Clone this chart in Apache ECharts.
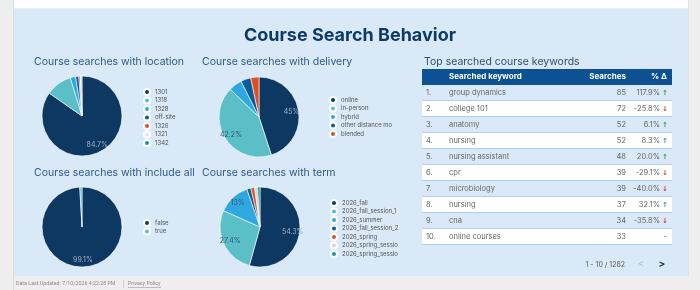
<!DOCTYPE html>
<html>
<head>
<meta charset="utf-8">
<script src="https://cdn.jsdelivr.net/npm/echarts@6/dist/echarts.min.js"></script>
<style>
html,body{margin:0;padding:0;background:#eeeeee;}
#chart{width:700px;height:290px;}
</style>
</head>
<body>
<div id="chart"></div>
<script>
// ---- data ----
const locationNames = ['1301','1318','1328','off-site','1326','1321','1342'];
const locationValues = [84.7, 10.6, 2.1, 1.3, 0.6, 0.4, 0.3];

const deliveryNames = ['online','in-person','hybrid','other distance modality','blended'];
const deliveryValues = [45, 42.2, 5.4, 4.1, 3.3];

const includeNames = ['false','true'];
const includeValues = [99.1, 0.9];

const termNames = ['2026_fall','2026_fall_session_1','2026_summer','2026_fall_session_2','2026_spring','2026_spring_session_1','2026_spring_session_2'];
const termValues = [54.3, 27.4, 13, 1.6, 1.5, 1.2, 1.0];

const keywordRanks = ['1.','2.','3.','4.','5.','6.','7.','8.','9.','10.'];
const keywords = ['group dynamics','college 101','anatomy','nursing','nursing assistant','cpr','microbiology','nursing','cna','online courses'];
const keywordSearches = [85, 72, 52, 52, 48, 39, 39, 37, 34, 33];
const keywordChange = [117.9, -25.8, 6.1, 8.3, 20.0, -29.1, -40.0, 32.1, -35.8, null];

// ---- styles ----
const FONT = 'Inter, "Open Sans", sans-serif';
const PANEL = '#d9e9f8';
const palette = ['#0d3861','#5bbfc7','#2fa8e0','#0b5c9e','#e0501f','#d6d6d6','#14979e'];
const locPalette = ['#0d3861','#5bbfc7','#2fa8e0','#0b5c9e','#e0501f',PANEL,'#14979e'];
const darkSet = new Set(['#0d3861','#0b5c9e','#e0501f','#14979e']);
const R = 40;

function pieSeries(names, values, colors, center) {
  const data = names.map((n, i) => ({name: n, value: values[i], itemStyle: {color: colors[i]}}));
  const labelData = names.map((n, i) => ({
    name: n, value: values[i],
    label: {color: darkSet.has(colors[i]) ? '#9fb2c6' : '#35577a'}
  }));
  return [
    {
      type: 'pie', center: center, radius: [0, R], startAngle: 90, clockwise: true,
      data: data, label: {show: false}, labelLine: {show: false},
      itemStyle: {borderColor: '#ffffff', borderWidth: 0.6},
      emphasis: {disabled: true}, animation: false
    },
    {
      type: 'pie', center: center, radius: [0, R * 1.5], startAngle: 90, clockwise: true,
      data: labelData, silent: true, legendHoverLink: false,
      itemStyle: {color: 'rgba(0,0,0,0)', borderWidth: 0},
      label: {
        show: true, position: 'inside', fontSize: 7, fontFamily: FONT,
        formatter: p => (p.value >= 12 ? p.value + '%' : '')
      },
      labelLine: {show: false}, emphasis: {disabled: true}, animation: false, z: 3
    }
  ];
}

function legend(names, left, top, width) {
  return {
    orient: 'vertical', left: left, top: top, data: names,
    icon: 'circle', itemWidth: 6, itemHeight: 6, itemGap: 0.5,
    selectedMode: false, padding: 0,
    textStyle: {fontSize: 6, color: '#555', fontFamily: FONT,
      width: width, overflow: 'truncate', ellipsis: ''}
  };
}

const chart = echarts.init(document.getElementById('chart'), null, {renderer: 'canvas'});

const tableLeft = 422, tableWidth = 250, tableTop = 85, rowH = 16;
const subStyle = {fontSize: 10.5, fontWeight: 'normal', color: '#2c5b86', fontFamily: FONT};
const FOOT = '5.3px Roboto, sans-serif';

const option = {
  backgroundColor: '#eeeeee',
  animation: false,
  graphic: [
    {type: 'rect', shape: {x: 13, y: 0, width: 1, height: 290}, style: {fill: '#dcdcdc'}, z: 0},
    {type: 'rect', shape: {x: 14, y: 0, width: 674, height: 9}, style: {fill: '#ffffff'}, z: 0},
    {type: 'rect', shape: {x: 14, y: 8, width: 674, height: 1}, style: {fill: '#e8eef4'}, z: 0},
    {type: 'rect', shape: {x: 14, y: 9, width: 674, height: 267}, style: {fill: PANEL}, z: 0},
    {type: 'rect', shape: {x: 688, y: 0, width: 1, height: 277}, style: {fill: '#e2e2e2'}, z: 0},
    // table header
    {type: 'rect', shape: {x: tableLeft, y: 69, width: tableWidth, height: 16}, style: {fill: '#0d5192'}, z: 5},
    {type: 'text', x: tableLeft + 27, y: 77, style: {text: 'Searched keyword', fill: '#fff', font: 'bold 8px ' + FONT, textVerticalAlign: 'middle'}, z: 6},
    {type: 'text', x: tableLeft + 204, y: 77, style: {text: 'Searches', fill: '#fff', font: 'bold 8px ' + FONT, textAlign: 'right', textVerticalAlign: 'middle'}, z: 6},
    {type: 'text', x: tableLeft + 245, y: 77, style: {text: '% Δ', fill: '#fff', font: 'bold 8px ' + FONT, textAlign: 'right', textVerticalAlign: 'middle'}, z: 6},
    // pagination
    {type: 'text', x: 625, y: 265, style: {text: '1 - 10 / 1282', fill: '#555', font: '7px ' + FONT, textAlign: 'right', textVerticalAlign: 'middle'}, z: 6},
    {type: 'text', x: 641, y: 264, style: {text: '<', fill: '#bbbbbb', font: '10px ' + FONT, textAlign: 'center', textVerticalAlign: 'middle'}, z: 6},
    {type: 'text', x: 662, y: 264, style: {text: '>', fill: '#333', font: 'bold 10px ' + FONT, textAlign: 'center', textVerticalAlign: 'middle'}, z: 6},
    // footer
    {type: 'text', x: 16, y: 284, style: {text: 'Data Last Updated: 7/10/2026 4:22:28 PM', fill: '#8a8a8a', font: FOOT, textVerticalAlign: 'middle'}, z: 6},
    {type: 'rect', shape: {x: 123, y: 280, width: 0.6, height: 8}, style: {fill: '#bbbbbb'}, z: 6},
    {type: 'text', x: 128, y: 284, style: {text: 'Privacy Policy', fill: '#8a8a8a', font: FOOT, textVerticalAlign: 'middle'}, z: 6},
    {type: 'rect', shape: {x: 128, y: 287.5, width: 33, height: 0.5}, style: {fill: '#8a8a8a'}, z: 6}
  ],
  title: [
    {text: 'Course Search Behavior', left: 'center', top: 22,
      textStyle: {fontSize: 18, fontWeight: 'bold', color: '#0e3a68', fontFamily: FONT}},
    {text: 'Course searches with location', left: 29, top: 51, textStyle: subStyle},
    {text: 'Course searches with delivery', left: 197, top: 51, textStyle: subStyle},
    {text: 'Course searches with include all', left: 29, top: 162, textStyle: subStyle},
    {text: 'Course searches with term', left: 197, top: 162, textStyle: subStyle},
    {text: 'Top searched course keywords', left: 419, top: 51, textStyle: Object.assign({}, subStyle, {color: '#2f4e6e'})}
  ],
  legend: [
    legend(locationNames, 143, 88, 24),
    legend(deliveryNames, 329, 96, 56),
    legend(includeNames, 143, 219, 24),
    legend(termNames, 330, 199, 60)
  ],
  grid: {left: tableLeft, top: tableTop, width: tableWidth, height: rowH * keywords.length},
  xAxis: {type: 'value', min: 0, max: 1, show: false},
  yAxis: {type: 'category', data: keywordRanks, inverse: true, show: false},
  series: [
    ...pieSeries(locationNames, locationValues, locPalette, [82, 116]),
    ...pieSeries(deliveryNames, deliveryValues, palette, [259, 117]),
    ...pieSeries(includeNames, includeValues, palette, [82, 227]),
    ...pieSeries(termNames, termValues, palette, [260, 227]),
    {
      type: 'custom', coordinateSystem: 'cartesian2d', silent: true,
      data: keywords.map((k, i) => [0, i]),
      encode: {x: 0, y: 1},
      renderItem: function (params, api) {
        const i = api.value(1);
        const c = api.coord([0, i]);
        const h = api.size([0, 1])[1];
        const cs = params.coordSys;
        const x0 = cs.x, y0 = c[1] - h / 2, yc = c[1];
        const ch = keywordChange[i];
        const children = [
          {type: 'rect', shape: {x: x0, y: y0, width: cs.width, height: h},
            style: {fill: i % 2 === 1 ? '#ffffff' : 'rgba(0,0,0,0)'}},
          {type: 'rect', shape: {x: x0, y: y0 + h - 1, width: cs.width, height: 1},
            style: {fill: '#b3cfee'}},
          {type: 'text', x: x0 + 4, y: yc, style: {text: keywordRanks[i], fill: '#666', font: '7.5px ' + FONT, textVerticalAlign: 'middle'}},
          {type: 'text', x: x0 + 27, y: yc, style: {text: keywords[i], fill: '#666', font: '7.5px ' + FONT, textVerticalAlign: 'middle'}},
          {type: 'text', x: x0 + 204, y: yc, style: {text: String(keywordSearches[i]), fill: '#666', font: '7.5px ' + FONT, textAlign: 'right', textVerticalAlign: 'middle'}}
        ];
        if (ch === null) {
          children.push({type: 'text', x: x0 + 245, y: yc, style: {text: '-', fill: '#666', font: '7.5px ' + FONT, textAlign: 'right', textVerticalAlign: 'middle'}});
        } else {
          children.push({type: 'text', x: x0 + 238, y: yc, style: {text: ch.toFixed(1) + '%', fill: '#666', font: '7.5px ' + FONT, textAlign: 'right', textVerticalAlign: 'middle'}});
          children.push({type: 'text', x: x0 + 243, y: yc, style: {text: ch >= 0 ? '↑' : '↓', fill: ch >= 0 ? '#2a9d45' : '#e2362b', font: 'bold 7px "DejaVu Sans"', textAlign: 'center', textVerticalAlign: 'middle'}});
        }
        return {type: 'group', children: children};
      },
      z: 4
    }
  ]
};
chart.setOption(option);
</script>
</body>
</html>
